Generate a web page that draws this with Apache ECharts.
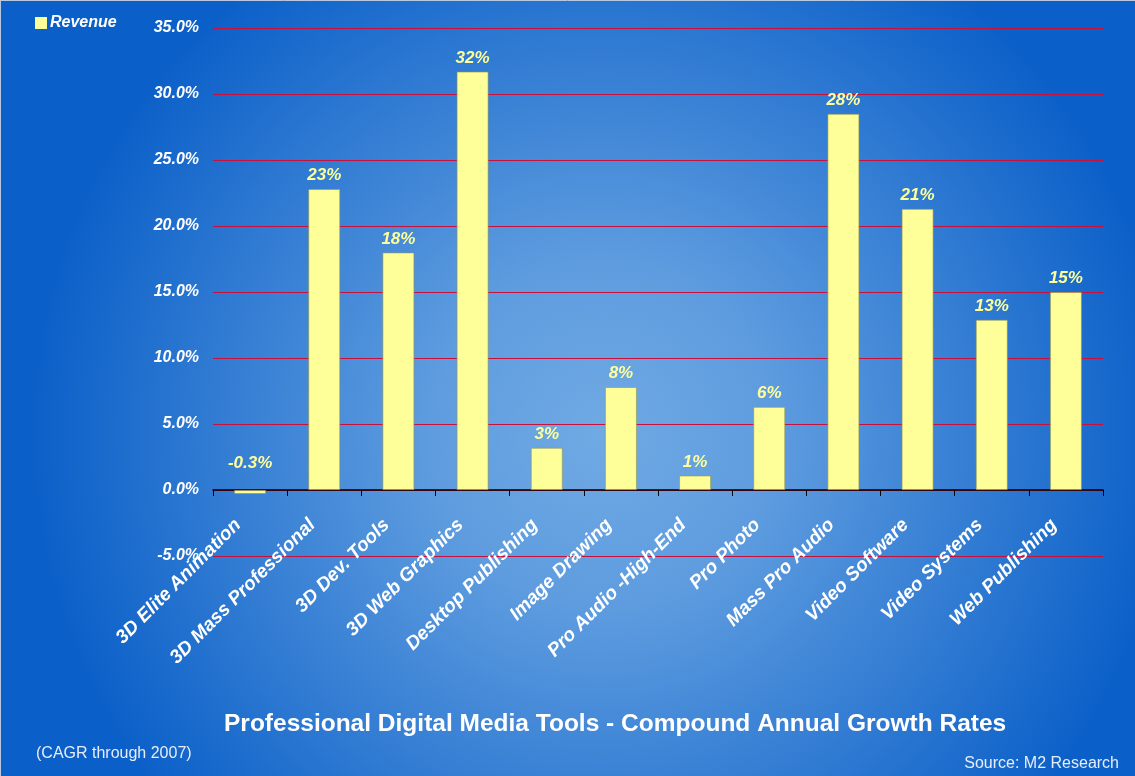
<!DOCTYPE html>
<html><head><meta charset="utf-8">
<script src="https://cdn.jsdelivr.net/npm/echarts@6/dist/echarts.min.js"></script>
<style>html,body{margin:0;padding:0;background:#0a5fc8;}#c{width:1135px;height:776px;}</style>
</head><body><div id="c"></div>
<script>
const categories = ["3D Elite Animation","3D Mass Professional","3D Dev. Tools","3D Web Graphics","Desktop Publishing","Image Drawing","Pro Audio -High-End","Pro Photo","Mass Pro Audio","Video Software","Video Systems","Web Publishing"];
const revenue = [-0.3, 22.8, 18.0, 31.7, 3.2, 7.8, 1.1, 6.3, 28.5, 21.3, 12.9, 15.0];
const valueLabels = ["-0.3%","23%","18%","32%","3%","8%","1%","6%","28%","21%","13%","15%"];
const yMin = -5, yMax = 35, yStep = 5;

const chart = echarts.init(document.getElementById('c'));
chart.setOption({
  animation: false,
  backgroundColor: {type:'radial', x:0.53, y:0.56, r:0.74, colorStops:[
    {offset:0, color:'#70aae4'},{offset:0.3,color:'#5e9cdf'},{offset:1, color:'#0a5fc8'}]},
  graphic: [
    {type:'line', shape:{x1:0, y1:0.5, x2:1135, y2:0.5}, style:{stroke:'#b8c8e0', lineWidth:1}},
    {type:'line', shape:{x1:0.5, y1:0, x2:0.5, y2:776}, style:{stroke:'#b8c8e0', lineWidth:1}}
  ],
  title: [
    {text:'Professional Digital Media Tools - Compound Annual Growth Rates', left:219, top:707,
     textStyle:{color:'#ffffff', fontFamily:'Liberation Sans', fontWeight:'bold', fontSize:24.5}},
    {text:'(CAGR through 2007)', left:31, top:741, textStyle:{color:'#e8eef8', fontFamily:'Liberation Sans', fontWeight:'normal', fontSize:16}},
    {text:'Source: M2 Research', right:11, top:751, textStyle:{color:'#e8eef8', fontFamily:'Liberation Sans', fontWeight:'normal', fontSize:16}}
  ],
  legend: {left:30, top:10, itemWidth:12, itemHeight:12, itemGap:3, icon:'rect',
    itemStyle:{borderWidth:0},
    textStyle:{color:'#ffffff', fontFamily:'Liberation Sans', fontWeight:'bold', fontStyle:'italic', fontSize:16, padding:[0,0,0,-2]},
    data:['Revenue']},
  grid: {left:213, right:32, top:28, bottom:220, containLabel:false},
  xAxis: {type:'category', data:categories,
    axisLine:{onZero:true, lineStyle:{color:'#000000', width:1.5}},
    axisTick:{show:true, length:6, lineStyle:{color:'#000000'}},
    axisLabel:{rotate:45, interval:0, color:'#ffffff', fontFamily:'Liberation Sans', fontWeight:'bold', fontStyle:'italic', fontSize:19, margin:-46, padding:[0,17,0,0]}},
  yAxis: {type:'value', min:yMin, max:yMax, interval:yStep,
    axisLine:{show:false}, axisTick:{show:false},
    splitLine:{lineStyle:{color:'#c8103c', width:1}},
    axisLabel:{color:'#ffffff', fontFamily:'Liberation Sans', fontWeight:'bold', fontStyle:'italic', fontSize:16, margin:14, padding:[4,0,0,0],
      formatter: v => v.toFixed(1) + '%'}},
  series: [{name:'Revenue', type:'bar', barWidth:32,
    itemStyle:{color:'#ffff99', borderColor:'rgba(150,150,80,0.6)', borderWidth:1},
    data: revenue.map((v,i) => i===0 ? {value:v, label:{position:'insideBottom', offset:[0,-17]}} : v),
    label:{show:true, position:'top', distance:5, color:'#ffff99', fontFamily:'Liberation Sans', fontWeight:'bold', fontStyle:'italic', fontSize:17,
      formatter: p => valueLabels[p.dataIndex]}
  }]
});
</script></body></html>
